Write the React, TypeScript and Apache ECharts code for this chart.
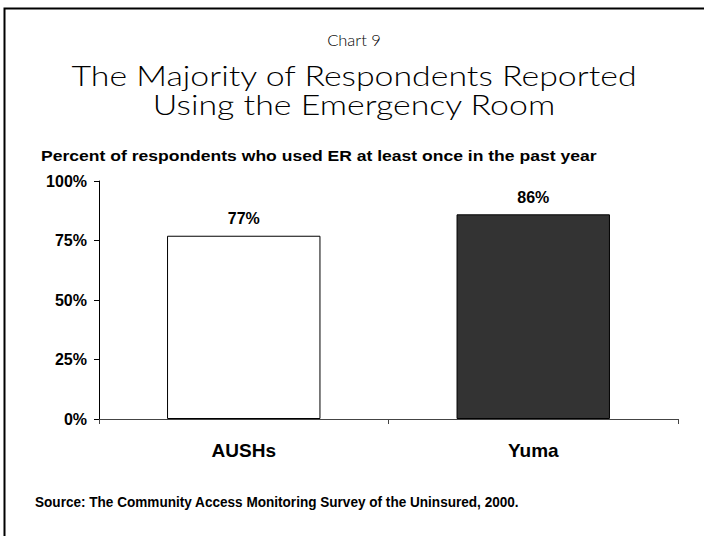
import React, { useEffect, useRef } from "react";
import * as echarts from "echarts";

const categories = ["AUSHs", "Yuma"];
const values = [77, 86];
const barColors = ["#ffffff", "#333333"];
const yTicks = [0, 25, 50, 75, 100];

const chartNo = "Chart 9";
const titleLine1 = "The Majority of Respondents Reported";
const titleLine2 = "Using the Emergency Room";
const subtitle = "Percent of respondents who used ER at least once in the past year";
const source = "Source: The Community Access Monitoring Survey of the Uninsured, 2000.";

export default function App() {
  const ref = useRef<HTMLDivElement>(null);
  useEffect(() => {
    if (!ref.current) return;
    const chart = echarts.init(ref.current, null, { renderer: "svg" });
    const lightTitle = (text: string, y: number, size: number, sx: number) => ({
      type: "text",
      x: 354,
      y,
      scaleX: sx,
      silent: true,
      style: {
        text,
        x: 0,
        y: 0,
        textAlign: "center",
        textVerticalAlign: "middle",
        font: `300 ${size}px Lato`,
        fill: "#000",
      },
    });
    chart.setOption({
      animation: false,
      backgroundColor: "#ffffff",
      graphic: [
        {
          type: "rect",
          shape: { x: 4.5, y: 8.5, width: 800, height: 700 },
          style: { fill: "none", stroke: "#000", lineWidth: 2 },
          silent: true,
        },
        lightTitle(chartNo, 40, 15, 1.1),
        lightTitle(titleLine1, 75, 28, 1.21),
        lightTitle(titleLine2, 104, 28, 1.21),
        {
          type: "text",
          x: 41,
          y: 155,
          scaleX: 1.17,
          silent: true,
          style: {
            text: subtitle,
            x: 0,
            y: 0,
            textAlign: "left",
            textVerticalAlign: "middle",
            font: "bold 15px 'Liberation Sans'",
            fill: "#000",
          },
        },
        {
          type: "text",
          x: 35,
          y: 502,
          scaleX: 0.97,
          silent: true,
          style: {
            text: source,
            x: 0,
            y: 0,
            textAlign: "left",
            textVerticalAlign: "middle",
            font: "bold 14px 'Liberation Sans'",
            fill: "#000",
          },
        },
      ],
      grid: { left: 99, right: 26, top: 181, bottom: 117, containLabel: false },
      xAxis: {
        type: "category",
        data: categories,
        boundaryGap: true,
        axisLine: { show: true, lineStyle: { color: "#444", width: 1 } },
        axisTick: { show: true, length: 5, alignWithLabel: false, lineStyle: { color: "#444" } },
        axisLabel: {
          margin: 22,
          fontFamily: "Liberation Sans",
          fontWeight: "bold",
          fontSize: 19,
          color: "#000",
        },
      },
      yAxis: {
        type: "value",
        min: 0,
        max: 100,
        interval: 25,
        axisLine: { show: true, lineStyle: { color: "#000", width: 1 } },
        axisTick: { show: true, length: 5, lineStyle: { color: "#000" } },
        splitLine: { show: false },
        axisLabel: {
          formatter: (v: number) => (yTicks.includes(v) ? v + "%" : ""),
          margin: 12,
          fontFamily: "Liberation Sans",
          fontWeight: "bold",
          fontSize: 16,
          color: "#000",
        },
      },
      series: [
        {
          type: "bar",
          barWidth: "53%",
          data: values.map((v, i) => ({
            value: v,
            itemStyle: { color: barColors[i], borderColor: "#000", borderWidth: 1 },
          })),
          label: {
            show: true,
            position: "top",
            distance: 9,
            formatter: (p: any) => p.value + "%",
            fontFamily: "Liberation Sans",
            fontWeight: "bold",
            fontSize: 16,
            color: "#000",
          },
        },
      ],
    });
    return () => chart.dispose();
  }, []);
  return (
    <div
      ref={ref}
      style={{ position: "fixed", left: 0, top: 0, width: 704, height: 536 }}
    />
  );
}
